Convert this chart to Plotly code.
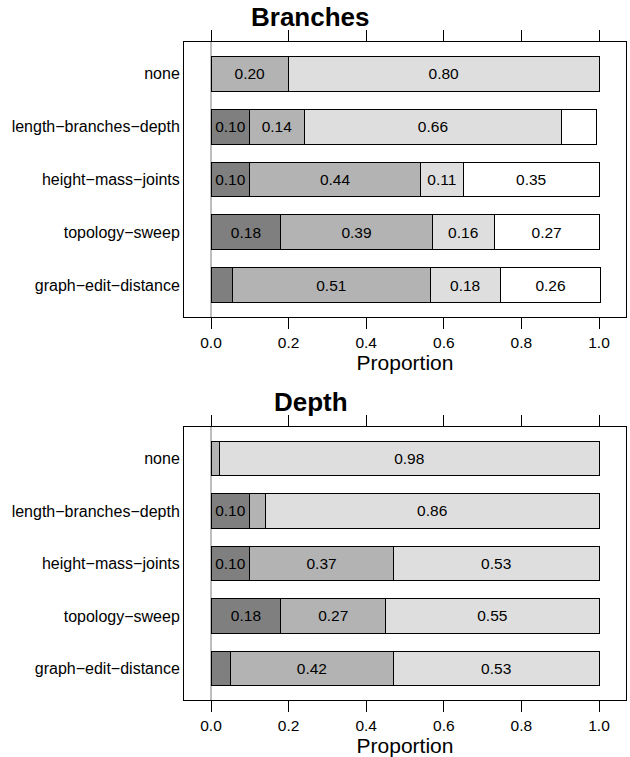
import plotly.graph_objects as go

categories = ["none", "length\u2212branches\u2212depth", "height\u2212mass\u2212joints",
              "topology\u2212sweep", "graph\u2212edit\u2212distance"]
x_ticks = [0.0, 0.2, 0.4, 0.6, 0.8, 1.0]
x_tick_labels = ["0.0", "0.2", "0.4", "0.6", "0.8", "1.0"]

# Branches panel (values per category, same order as categories)
branches_dark = [0.00, 0.10, 0.10, 0.18, 0.055]
branches_medium = [0.20, 0.14, 0.44, 0.39, 0.51]
branches_light = [0.80, 0.664, 0.11, 0.16, 0.18]
branches_white = [0.00, 0.09, 0.35, 0.27, 0.26]

# Depth panel
depth_dark = [0.00, 0.10, 0.10, 0.18, 0.05]
depth_medium = [0.022, 0.04, 0.37, 0.27, 0.42]
depth_light = [0.978, 0.86, 0.53, 0.55, 0.53]

colors = ["#7f7f7f", "#b3b3b3", "#dedede", "#ffffff"]
FONT = "Liberation Sans, Arial, Helvetica, sans-serif"
W, H = 630, 757


def lab(vals):
    return [f"{v:.2f}" if v >= 0.095 else "" for v in vals]


fig = go.Figure()

panels = [
    ("x", "y", [branches_dark, branches_medium, branches_light, branches_white]),
    ("x2", "y2", [depth_dark, depth_medium, depth_light]),
]
for xa, ya, series in panels:
    for i, vals in enumerate(series):
        fig.add_trace(go.Bar(
            y=categories, x=vals, orientation="h", xaxis=xa, yaxis=ya,
            width=0.66,
            marker=dict(color=colors[i], line=dict(color="black", width=1)),
            text=lab(vals), textposition="inside", insidetextanchor="middle",
            textangle=0, textfont=dict(size=15.5, color="black", family=FONT),
            showlegend=False, hoverinfo="skip",
        ))

def ypx(a, b):
    return [(H - b) / H, (H - a) / H]

xdom = [184 / W, 626 / W]
common_x = dict(
    range=[-0.0696, 1.0696], tickvals=x_ticks, ticktext=x_tick_labels,
    ticks="outside", ticklen=11, tickwidth=1, tickcolor="black",
    showline=True, linecolor="black", linewidth=1, mirror="ticks",
    showgrid=False, zeroline=True, zerolinecolor="#bebebe", zerolinewidth=1.5,
    tickfont=dict(size=15.5, family=FONT, color="black"),
    title=dict(text="Proportion", font=dict(size=21, family=FONT, color="black"), standoff=2),
    domain=xdom, fixedrange=True, automargin=False,
)
common_y = dict(
    type="category", categoryorder="array", categoryarray=categories[::-1],
    range=[-0.6, 4.6], ticks="", showline=True, linecolor="black", linewidth=1,
    mirror=True, showgrid=False, zeroline=False,
    tickfont=dict(size=16, family=FONT, color="black"), fixedrange=True,
    automargin=False,
)

fig.update_layout(
    width=W, height=H, margin=dict(l=0, r=0, t=0, b=0, autoexpand=False),
    paper_bgcolor="white", plot_bgcolor="white", barmode="stack",
    xaxis=dict(**common_x, anchor="y"),
    yaxis=dict(**common_y, domain=ypx(42, 317), anchor="x"),
    xaxis2=dict(**common_x, anchor="y2"),
    yaxis2=dict(**common_y, domain=ypx(427, 700), anchor="x2"),
    annotations=[
        dict(text="<b>Branches</b>", x=310.5 / W, y=(H - 17) / H,
             xref="paper", yref="paper",
             showarrow=False, font=dict(size=26, family=FONT, color="black"),
             xanchor="center", yanchor="middle"),
        dict(text="<b>Depth</b>", x=310.5 / W, y=(H - 402) / H,
             xref="paper", yref="paper",
             showarrow=False, font=dict(size=26, family=FONT, color="black"),
             xanchor="center", yanchor="middle"),
    ],
    uniformtext=dict(minsize=15, mode="show"),
)

fig.write_html("out.html", config={"displayModeBar": False},
               post_script="document.body.style.margin='0';document.body.style.padding='0';")
